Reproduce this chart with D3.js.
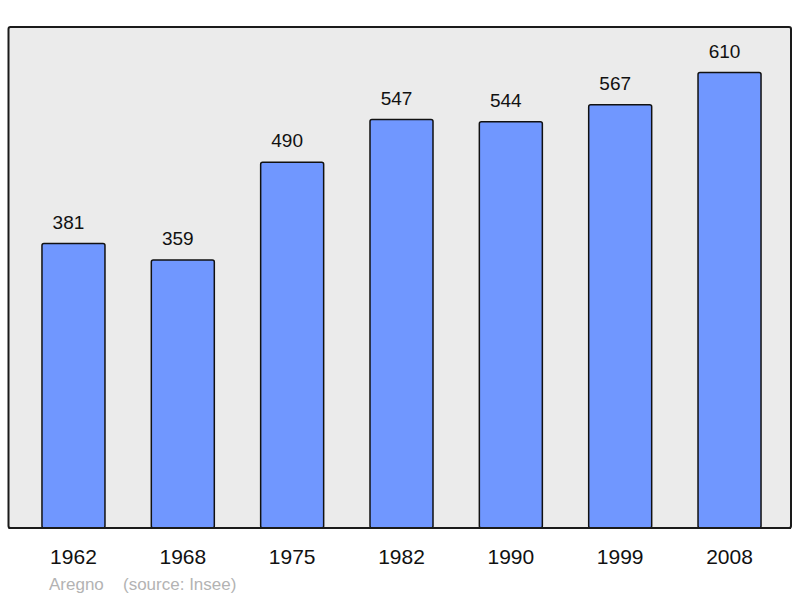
<!DOCTYPE html>
<html>
<head>
<meta charset="utf-8">
<script src="https://cdn.jsdelivr.net/npm/d3@7"></script>
<style>
  html, body { margin: 0; padding: 0; background: #ffffff; }
  svg { display: block; font-family: "Liberation Sans", Arial, sans-serif; }
</style>
</head>
<body>
<svg id="chart" width="800" height="598"></svg>
<script>
const years = ["1962", "1968", "1975", "1982", "1990", "1999", "2008"];
const population = [381, 359, 490, 547, 544, 567, 610];
const commune = "Aregno";
const sourceNote = "(source: Insee)";

const svg = d3.select("#chart");
const frame = { left: 8.5, top: 27, right: 791, bottom: 528 };

svg.append("rect")
  .attr("x", frame.left).attr("y", frame.top)
  .attr("width", frame.right - frame.left).attr("height", frame.bottom - frame.top)
  .attr("rx", 2).attr("ry", 2)
  .attr("fill", "#ebebeb").attr("stroke", "#1a1a1a").attr("stroke-width", 2);

const x = d3.scaleBand()
  .domain(years)
  .range([18.8, 784.2])
  .paddingInner(0.4238)
  .paddingOuter(0.2119);

const y = d3.scaleLinear()
  .domain([0, 671])
  .range([frame.bottom, frame.top]);

const data = years.map((yr, i) => ({ year: yr, value: population[i] }));

svg.append("g").selectAll("rect")
  .data(data).join("rect")
  .attr("x", d => x(d.year))
  .attr("y", d => y(d.value))
  .attr("width", x.bandwidth())
  .attr("height", d => y(0) - y(d.value))
  .attr("rx", 2).attr("ry", 2)
  .attr("fill", "#7097ff")
  .attr("stroke", "#111111")
  .attr("stroke-width", 1.5);

svg.append("g").selectAll("text")
  .data(data).join("text")
  .attr("x", d => x(d.year) + x.bandwidth() / 2 - 5)
  .attr("y", d => y(d.value) - 15)
  .attr("text-anchor", "middle")
  .attr("font-size", 19)
  .attr("fill", "#111111")
  .text(d => d.value);

// redraw bottom frame line over bars
svg.append("line")
  .attr("x1", frame.left).attr("x2", frame.right)
  .attr("y1", frame.bottom).attr("y2", frame.bottom)
  .attr("stroke", "#1a1a1a").attr("stroke-width", 2);

const xAxis = d3.axisBottom(x).tickSize(0).tickPadding(0);
const gx = svg.append("g")
  .attr("transform", `translate(0,${frame.bottom})`)
  .call(xAxis);
gx.select(".domain").remove();
gx.selectAll("text")
  .attr("dy", null)
  .attr("y", 36)
  .attr("font-size", 21)
  .attr("font-family", "Liberation Sans, Arial, sans-serif")
  .attr("fill", "#111111");

const foot = svg.append("text")
  .attr("y", 590)
  .attr("font-size", 17)
  .attr("fill", "#b3b3b3");
foot.append("tspan").attr("x", 49).text(commune);
foot.append("tspan").attr("x", 123).text(sourceNote);
</script>
</body>
</html>
